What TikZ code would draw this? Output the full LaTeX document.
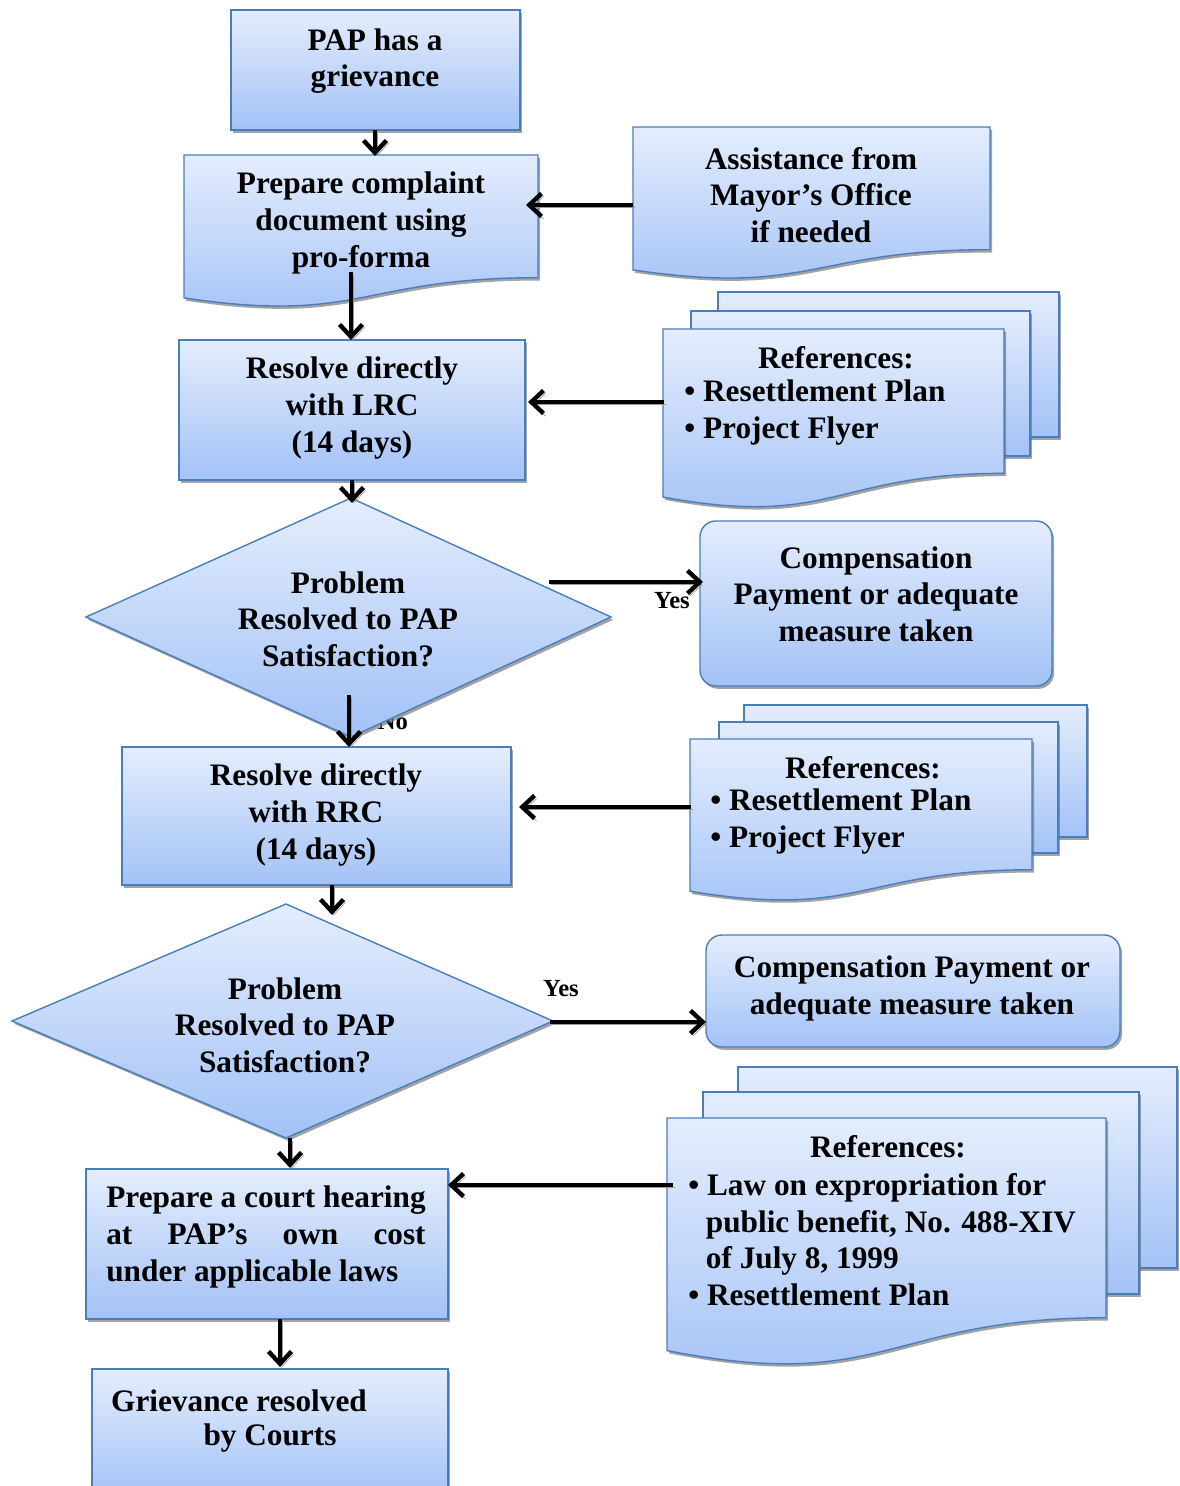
\documentclass[tikz,border=0pt]{standalone}
\usepackage{fontspec}
\setmainfont{Liberation Serif}
\usepackage{calc}
\usetikzlibrary{arrows.meta,shadows,fit}
\definecolor{topc}{HTML}{E4EDFD}
\definecolor{botc}{HTML}{A3C2F6}
\definecolor{bord}{HTML}{4A7EBB}
\newcommand\docshape[5]{%
  \path[#1] (#2,#3) -- ({#2+#4},#3) -- ({#2+#4},{#3+0.802*#5})
    .. controls ({#2+0.5*#4},{#3+0.802*#5}) and ({#2+0.5*#4},{#3+1.1075*#5}) ..
    (#2,{#3+0.934*#5}) -- cycle;}
\begin{document}
\begin{tikzpicture}[x=0.02cm,y=-0.02cm,
  shp/.style={draw=bord, line width=0.8pt, top color=topc, bottom color=botc,
    drop shadow={shadow xshift=1.2pt, shadow yshift=-1.6pt, fill=black!60, opacity=0.6}},
  anchorbox/.style={inner sep=0pt, outer sep=0pt},
  txt/.style={font=\fontsize{17.8}{20.8}\selectfont\bfseries, align=center, inner sep=0pt, yshift=-1.7pt},
  lbl/.style={font=\fontsize{14}{16}\selectfont\bfseries, inner sep=0pt},
  arr/.style={line width=2.5pt, -{Straight Barb[length=7pt,width=13pt]},
    preaction={draw=black!40, transform canvas={shift={(1.2pt,-1.6pt)}}}}]
\useasboundingbox (0,0) rectangle (1179,1486);

% Box 1
\node[shp, anchorbox, fit={(231,10) (520,130)}] (b1) {};
\node[txt] (t1) at (375,58) {PAP has a\\grievance};

% Box 2 (document)
\docshape{shp}{184}{155}{354}{153}
\node[anchorbox, fit={(184,155) (538,298)}] (b2) {};
\node[txt] (t2) at (361,220) {Prepare complaint\\document using\\pro-forma};

% Box 3 (document)
\docshape{shp}{633}{127}{357}{153}
\node[anchorbox, fit={(633,127) (990,270)}] (b3) {};
\node[txt] (t3) at (811,192) {Assistance from\\Mayor’s Office\\if needed};

% Box 4
\node[shp, anchorbox, fit={(179,340) (525,480)}] (b4) {};
\node[txt] (t4) at (352,405) {Resolve directly\\with LRC\\(14 days)};

% References 1
\path[shp] (718,292) rectangle (1059,437);
\path[shp] (691,311) rectangle (1030,456);
\docshape{shp}{663}{329}{341}{180}
\node[anchorbox, fit={(663,329) (1004,497)}] (r1) {};
\node[txt] (r1t) at (836,355) {References:};
\node[txt, align=left, anchor=west, font=\fontsize{17.8}{21.5}\selectfont\bfseries] (r1b) at (684,409.5) {• Resettlement Plan\\• Project Flyer};

% Diamond 1
\node[lbl] (no1) at (393,722) {No};
\path[shp] (86,617) -- (351,498) -- (611,617) -- (351,737) -- cycle;
\node[anchorbox, fit={(86,498) (611,737)}] (d1) {};
\node[txt] (d1t) at (348,616) {Problem\\Resolved to PAP\\Satisfaction?};

% Compensation 1
\node[shp, anchorbox, rounded corners=9pt, fit={(700,521) (1052,686)}] (c1) {};
\node[txt] (c1t) at (876,591) {Compensation\\Payment or adequate\\measure taken};

% Box RRC
\node[shp, anchorbox, fit={(122,747) (511,885)}] (b5) {};
\node[txt] (t5) at (316,812) {Resolve directly\\with RRC\\(14 days)};

% References 2
\path[shp] (744,705) rectangle (1087,837);
\path[shp] (719,722) rectangle (1058,853);
\docshape{shp}{690}{739}{342}{163}
\node[anchorbox, fit={(690,739) (1032,891)}] (r2) {};
\node[txt] (r2t) at (863,765) {References:};
\node[txt, align=left, anchor=west, font=\fontsize{17.8}{21.5}\selectfont\bfseries] (r2b) at (710,818.5) {• Resettlement Plan\\• Project Flyer};

% Diamond 2
\path[shp] (12,1021) -- (286,904) -- (553,1021) -- (286,1138) -- cycle;
\node[anchorbox, fit={(12,904) (553,1138)}] (d2) {};
\node[txt] (d2t) at (285,1022) {Problem\\Resolved to PAP\\Satisfaction?};

% Compensation 2
\node[shp, anchorbox, rounded corners=9pt, fit={(706,935) (1120,1047)}] (c2) {};
\node[txt] (c2t) at (912,985.5) {Compensation Payment or\\adequate measure taken};

% References 3
\path[shp] (738,1067) rectangle (1177,1268);
\path[shp] (703,1092) rectangle (1139,1294);
\docshape{shp}{667}{1118}{439}{249}
\node[anchorbox, fit={(667,1118) (1106,1351)}] (r3) {};
\node[txt] (r3t) at (888,1144) {References:};
\node[txt, align=left, anchor=west] (r3b) at (688,1236.5)
  {• Law on expropriation for\\\hspace*{10pt}public benefit, No. 488-XIV\\\hspace*{10pt}of July 8, 1999\\• Resettlement Plan};

% Court box
\node[shp, anchorbox, fit={(86,1169) (448,1319)}] (b6) {};
\node[txt, align=left, anchor=west] (t6) at (106,1234)
  {Prepare a court hearing\\\makebox[\widthof{Prepare a court hearing}][s]{at PAP’s own cost}\\under applicable laws};

% Final box
\node[shp, anchorbox, fit={(92,1369) (448,1500)}] (b7) {};
\node[txt] (t7a) at (239,1398) {Grievance resolved};
\node[txt] (t7b) at (270,1435) {by Courts};

% Labels
\node[lbl] (yes1) at (672,601) {Yes};
\node[lbl] (yes2) at (561,989) {Yes};

% Arrow end points
\coordinate (a1s) at (375,130); \coordinate (a1e) at (375,156);
\coordinate (a2s) at (633,205); \coordinate (a2e) at (526,205);
\coordinate (a3s) at (351,272); \coordinate (a3e) at (351,340);
\coordinate (a4s) at (664,402); \coordinate (a4e) at (528,402);
\coordinate (a5s) at (352,480); \coordinate (a5e) at (352,503);
\coordinate (a6s) at (549,582); \coordinate (a6e) at (703,582);
\coordinate (a7s) at (349,695); \coordinate (a7e) at (349,747);
\coordinate (a8s) at (691,807); \coordinate (a8e) at (519,807);
\coordinate (a9s) at (332,885); \coordinate (a9e) at (332,915);
\coordinate (a10s) at (550,1022); \coordinate (a10e) at (706,1022);
\coordinate (a11s) at (290,1138); \coordinate (a11e) at (290,1168);
\coordinate (a12s) at (673,1185); \coordinate (a12e) at (448,1185);
\coordinate (a13s) at (280,1319); \coordinate (a13e) at (280,1367);

\draw[arr] (a1s) -- (a1e);
\draw[arr] (a2s) -- (a2e);
\draw[arr] (a3s) -- (a3e);
\draw[arr] (a4s) -- (a4e);
\draw[arr] (a5s) -- (a5e);
\draw[arr] (a6s) -- (a6e);
\draw[arr] (a7s) -- (a7e);
\draw[arr] (a8s) -- (a8e);
\draw[arr] (a9s) -- (a9e);
\draw[arr] (a10s) -- (a10e);
\draw[arr] (a11s) -- (a11e);
\draw[arr] (a12s) -- (a12e);
\draw[arr] (a13s) -- (a13e);
\end{tikzpicture}
\end{document}
